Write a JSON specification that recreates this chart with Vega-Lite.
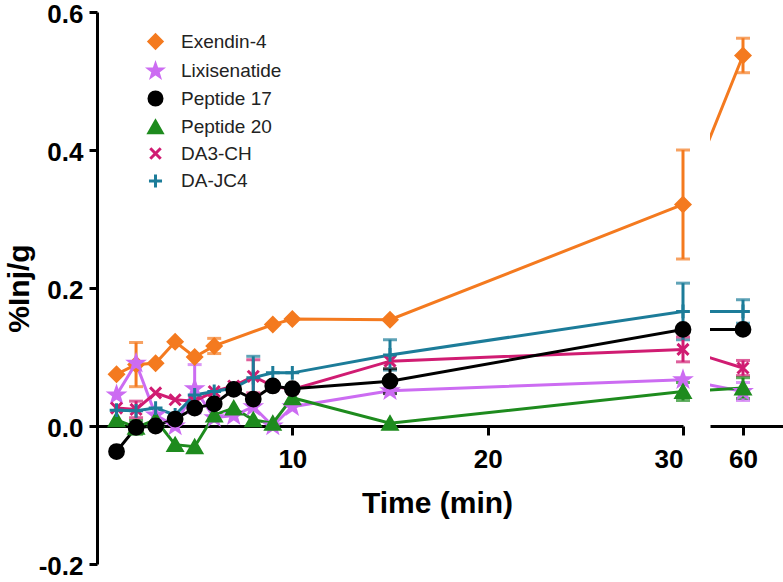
{
  "$schema": "https://vega.github.io/schema/vega-lite/v6.json",
  "background": "white",
  "padding": {"left": 4, "top": 1, "right": 0, "bottom": 0},
  "bounds": "flush",
  "datasets": {
    "pts": [
      {"s": "Exendin-4", "t": 1, "v": 0.075, "err": 0},
      {"s": "Exendin-4", "t": 2, "v": 0.089, "err": 0.032},
      {"s": "Exendin-4", "t": 3, "v": 0.091, "err": 0},
      {"s": "Exendin-4", "t": 4, "v": 0.122, "err": 0},
      {"s": "Exendin-4", "t": 5, "v": 0.100, "err": 0},
      {"s": "Exendin-4", "t": 6, "v": 0.116, "err": 0.011},
      {"s": "Exendin-4", "t": 9, "v": 0.147, "err": 0},
      {"s": "Exendin-4", "t": 10, "v": 0.155, "err": 0},
      {"s": "Exendin-4", "t": 15, "v": 0.154, "err": 0},
      {"s": "Exendin-4", "t": 30, "v": 0.321, "err": 0.079},
      {"s": "Exendin-4", "t": 60, "v": 0.537, "err": 0.025},
      {"s": "Lixisenatide", "t": 1, "v": 0.045, "err": 0},
      {"s": "Lixisenatide", "t": 2, "v": 0.091, "err": 0},
      {"s": "Lixisenatide", "t": 3, "v": 0.016, "err": 0},
      {"s": "Lixisenatide", "t": 4, "v": 0.0, "err": 0},
      {"s": "Lixisenatide", "t": 5, "v": 0.054, "err": 0.035},
      {"s": "Lixisenatide", "t": 6, "v": 0.012, "err": 0},
      {"s": "Lixisenatide", "t": 7, "v": 0.015, "err": 0},
      {"s": "Lixisenatide", "t": 8, "v": 0.028, "err": 0},
      {"s": "Lixisenatide", "t": 9, "v": 0.0, "err": 0},
      {"s": "Lixisenatide", "t": 10, "v": 0.028, "err": 0},
      {"s": "Lixisenatide", "t": 15, "v": 0.051, "err": 0},
      {"s": "Lixisenatide", "t": 30, "v": 0.067, "err": 0},
      {"s": "Lixisenatide", "t": 60, "v": 0.050, "err": 0.013},
      {"s": "Peptide 20", "t": 1, "v": 0.009, "err": 0},
      {"s": "Peptide 20", "t": 2, "v": -0.002, "err": 0.01},
      {"s": "Peptide 20", "t": 3, "v": 0.009, "err": 0},
      {"s": "Peptide 20", "t": 4, "v": -0.027, "err": 0},
      {"s": "Peptide 20", "t": 5, "v": -0.030, "err": 0},
      {"s": "Peptide 20", "t": 6, "v": 0.016, "err": 0},
      {"s": "Peptide 20", "t": 7, "v": 0.026, "err": 0},
      {"s": "Peptide 20", "t": 8, "v": 0.009, "err": 0},
      {"s": "Peptide 20", "t": 9, "v": 0.004, "err": 0},
      {"s": "Peptide 20", "t": 10, "v": 0.041, "err": 0},
      {"s": "Peptide 20", "t": 15, "v": 0.004, "err": 0},
      {"s": "Peptide 20", "t": 30, "v": 0.050, "err": 0.013},
      {"s": "Peptide 20", "t": 60, "v": 0.055, "err": 0.015},
      {"s": "DA3-CH", "t": 1, "v": 0.026, "err": 0},
      {"s": "DA3-CH", "t": 2, "v": 0.024, "err": 0.012},
      {"s": "DA3-CH", "t": 3, "v": 0.048, "err": 0},
      {"s": "DA3-CH", "t": 4, "v": 0.038, "err": 0},
      {"s": "DA3-CH", "t": 5, "v": 0.036, "err": 0},
      {"s": "DA3-CH", "t": 6, "v": 0.050, "err": 0},
      {"s": "DA3-CH", "t": 7, "v": 0.058, "err": 0},
      {"s": "DA3-CH", "t": 8, "v": 0.072, "err": 0.024},
      {"s": "DA3-CH", "t": 9, "v": 0.058, "err": 0},
      {"s": "DA3-CH", "t": 10, "v": 0.053, "err": 0},
      {"s": "DA3-CH", "t": 15, "v": 0.094, "err": 0},
      {"s": "DA3-CH", "t": 30, "v": 0.111, "err": 0.018},
      {"s": "DA3-CH", "t": 60, "v": 0.084, "err": 0.011},
      {"s": "DA-JC4", "t": 1, "v": 0.023, "err": 0},
      {"s": "DA-JC4", "t": 2, "v": 0.022, "err": 0},
      {"s": "DA-JC4", "t": 3, "v": 0.026, "err": 0},
      {"s": "DA-JC4", "t": 4, "v": 0.016, "err": 0},
      {"s": "DA-JC4", "t": 5, "v": 0.045, "err": 0},
      {"s": "DA-JC4", "t": 6, "v": 0.050, "err": 0},
      {"s": "DA-JC4", "t": 7, "v": 0.055, "err": 0},
      {"s": "DA-JC4", "t": 8, "v": 0.070, "err": 0.031},
      {"s": "DA-JC4", "t": 9, "v": 0.077, "err": 0},
      {"s": "DA-JC4", "t": 10, "v": 0.077, "err": 0},
      {"s": "DA-JC4", "t": 15, "v": 0.103, "err": 0.022},
      {"s": "DA-JC4", "t": 30, "v": 0.166, "err": 0.041},
      {"s": "DA-JC4", "t": 60, "v": 0.166, "err": 0.017},
      {"s": "Peptide 17", "t": 1, "v": -0.037, "err": 0},
      {"s": "Peptide 17", "t": 2, "v": -0.002, "err": 0},
      {"s": "Peptide 17", "t": 3, "v": 0.0, "err": 0},
      {"s": "Peptide 17", "t": 4, "v": 0.010, "err": 0},
      {"s": "Peptide 17", "t": 5, "v": 0.026, "err": 0},
      {"s": "Peptide 17", "t": 6, "v": 0.032, "err": 0},
      {"s": "Peptide 17", "t": 7, "v": 0.053, "err": 0},
      {"s": "Peptide 17", "t": 8, "v": 0.039, "err": 0},
      {"s": "Peptide 17", "t": 9, "v": 0.058, "err": 0},
      {"s": "Peptide 17", "t": 10, "v": 0.054, "err": 0},
      {"s": "Peptide 17", "t": 15, "v": 0.065, "err": 0.018},
      {"s": "Peptide 17", "t": 30, "v": 0.140, "err": 0},
      {"s": "Peptide 17", "t": 60, "v": 0.140, "err": 0}
    ]
  },
  "config": {
    "view": {"stroke": null},
    "font": "Liberation Sans",
    "axis": {
      "domainColor": "black", "domainWidth": 3, "tickColor": "black", "tickWidth": 3, "tickSize": 9,
      "labelFont": "Liberation Sans", "labelFontWeight": "bold", "labelFontSize": 26, "labelColor": "black",
      "titleFont": "Liberation Sans", "titleFontWeight": "bold", "titleFontSize": 30, "titleColor": "black",
      "grid": false
    },
    "legend": {
      "labelFont": "Liberation Sans", "labelFontSize": 19, "labelColor": "#222222",
      "padding": 0, "symbolStrokeWidth": 3, "symbolSize": 170, "symbolOpacity": 1
    }
  },
  "spacing": 27,
  "resolve": {
    "scale": {"x": "independent", "y": "shared"},
    "legend": {"color": "independent", "shape": "independent", "stroke": "independent"}
  },
  "hconcat": [
    {
      "width": 586,
      "height": 552,
      "data": {"name": "pts"},
      "encoding": {
        "x": {
          "field": "t", "type": "quantitative",
          "scale": {"domain": [0, 30], "nice": false, "zero": false},
          "axis": {"values": [10, 20, 30], "offset": -138, "title": "Time (min)", "titleX": 340, "titlePadding": 16, "labelPadding": 11, "format": "d"}
        },
        "y": {
          "field": "v", "type": "quantitative",
          "scale": {"domain": [-0.2, 0.6], "nice": false, "zero": false},
          "axis": {"values": [-0.2, 0, 0.2, 0.4, 0.6], "labelExpr": "replace(format(datum.value,'.1f'),'−','-')", "title": "%Inj/g", "titlePadding": 4, "tickSize": 8, "labelPadding": 6, "labelOffset": 2}
        },
        "color": {
          "field": "s", "type": "nominal",
          "scale": {"domain": ["Exendin-4", "Lixisenatide", "Peptide 17", "Peptide 20", "DA3-CH", "DA-JC4"], "range": ["#F47A1F", "#CC6CF2", "#000000", "#1E8B1E", "#D01C72", "#1C7C99"]},
          "legend": {"title": null, "orient": "none", "legendX": 49, "legendY": 20, "rowPadding": 2.5, "labelOffset": 16}
        }
      },
      "layer": [
        {"mark": {"type": "line", "strokeWidth": 3, "clip": true}},
        {
          "transform": [{"filter": "datum.t <= 30 && datum.err > 0"}],
          "mark": {"type": "errorbar", "ticks": true, "size": 14, "thickness": 3},
          "encoding": {"yError": {"field": "err"}}
        },
        {
          "transform": [{"filter": "datum.t <= 30"}],
          "mark": {"type": "point", "filled": true, "size": 190, "strokeWidth": 3, "opacity": 1},
          "encoding": {
            "shape": {
              "field": "s", "type": "nominal",
              "scale": {"domain": ["Exendin-4", "Lixisenatide", "Peptide 17", "Peptide 20", "DA3-CH", "DA-JC4"], "range": ["diamond", "M0,-1L0.235,-0.324L0.951,-0.309L0.380,0.124L0.588,0.809L0,0.4L-0.588,0.809L-0.380,0.124L-0.951,-0.309L-0.235,-0.324Z", "circle", "triangle-up", "M-0.8,-0.8L0.8,0.8M-0.8,0.8L0.8,-0.8", "M-1,0L1,0M0,-1L0,1"]},
              "legend": {"title": null, "orient": "none", "legendX": 49, "legendY": 20, "rowPadding": 2.5, "labelOffset": 16}
            },
            "stroke": {
              "field": "s", "type": "nominal",
              "scale": {"domain": ["Exendin-4", "Lixisenatide", "Peptide 17", "Peptide 20", "DA3-CH", "DA-JC4"], "range": ["#F47A1F", "#CC6CF2", "#000000", "#1E8B1E", "#D01C72", "#1C7C99"]},
              "legend": {"title": null, "orient": "none", "legendX": 49, "legendY": 20, "rowPadding": 2.5, "labelOffset": 16}
            }
          }
        }
      ]
    },
    {
      "width": 73,
      "height": 552,
      "data": {"name": "pts"},
      "encoding": {
        "x": {
          "field": "t", "type": "quantitative",
          "scale": {"domain": [43.5, 80], "nice": false, "zero": false},
          "axis": {"values": [60], "offset": -138, "title": null, "labelPadding": 11, "format": "d"}
        },
        "y": {
          "field": "v", "type": "quantitative",
          "scale": {"domain": [-0.2, 0.6], "nice": false, "zero": false},
          "axis": null
        },
        "color": {
          "field": "s", "type": "nominal",
          "scale": {"domain": ["Exendin-4", "Lixisenatide", "Peptide 17", "Peptide 20", "DA3-CH", "DA-JC4"], "range": ["#F47A1F", "#CC6CF2", "#000000", "#1E8B1E", "#D01C72", "#1C7C99"]},
          "legend": null
        }
      },
      "layer": [
        {"mark": {"type": "line", "strokeWidth": 3, "clip": true}},
        {
          "transform": [{"filter": "datum.t >= 60 && datum.err > 0"}],
          "mark": {"type": "errorbar", "ticks": true, "size": 14, "thickness": 3},
          "encoding": {"yError": {"field": "err"}}
        },
        {
          "transform": [{"filter": "datum.t >= 60"}],
          "mark": {"type": "point", "filled": true, "size": 190, "strokeWidth": 3, "opacity": 1},
          "encoding": {
            "shape": {
              "field": "s", "type": "nominal",
              "scale": {"domain": ["Exendin-4", "Lixisenatide", "Peptide 17", "Peptide 20", "DA3-CH", "DA-JC4"], "range": ["diamond", "M0,-1L0.235,-0.324L0.951,-0.309L0.380,0.124L0.588,0.809L0,0.4L-0.588,0.809L-0.380,0.124L-0.951,-0.309L-0.235,-0.324Z", "circle", "triangle-up", "M-0.8,-0.8L0.8,0.8M-0.8,0.8L0.8,-0.8", "M-1,0L1,0M0,-1L0,1"]},
              "legend": null
            },
            "stroke": {
              "field": "s", "type": "nominal",
              "scale": {"domain": ["Exendin-4", "Lixisenatide", "Peptide 17", "Peptide 20", "DA3-CH", "DA-JC4"], "range": ["#F47A1F", "#CC6CF2", "#000000", "#1E8B1E", "#D01C72", "#1C7C99"]},
              "legend": null
            }
          }
        }
      ]
    }
  ]
}
